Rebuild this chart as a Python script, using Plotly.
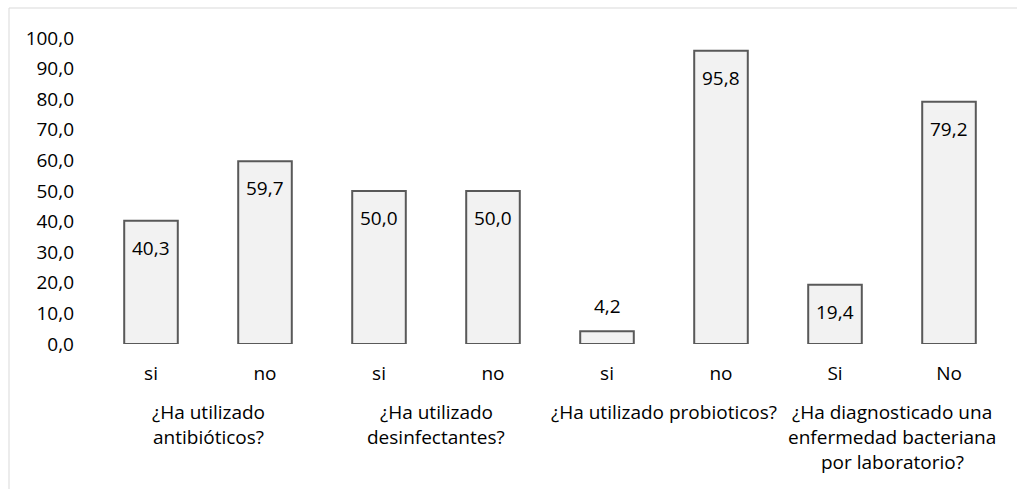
import plotly.graph_objects as go

# Survey answers (percent of respondents)
questions = [
    ["¿Ha utilizado", "antibióticos?"],
    ["¿Ha utilizado", "desinfectantes?"],
    ["¿Ha utilizado probioticos?"],
    ["¿Ha diagnosticado una", "enfermedad bacteriana", "por laboratorio?"],
]
answers = ["si", "no", "si", "no", "si", "no", "Si", "No"]
percent = [40.3, 59.7, 50.0, 50.0, 4.2, 95.8, 19.4, 79.2]
y_ticks = [0, 10, 20, 30, 40, 50, 60, 70, 80, 90, 100]

FONT = "Open Sans"
FS = 19
TXT = "#000000"
positions = list(range(len(answers)))

fig = go.Figure(
    go.Bar(
        x=positions,
        y=percent,
        width=0.47,
        marker=dict(color="#F2F2F2", line=dict(color="#595959", width=2)),
        hoverinfo="skip",
    )
)

annotations = []
# value labels: inside near the top, or above when the bar is too short
for x, v in zip(positions, percent):
    label = f"{v:.1f}".replace(".", ",")
    inside = v > 10
    annotations.append(dict(
        x=x, y=v, xref="x", yref="y", text=label, showarrow=False,
        yshift=-27 if inside else 25,
        font=dict(family=FONT, size=FS, color=TXT),
    ))

# question labels under each pair of answers
for g, lines in enumerate(questions):
    for i, line in enumerate(lines):
        annotations.append(dict(
            x=2 * g + 0.5, y=0, xref="x", yref="paper", text=line,
            showarrow=False, yanchor="middle", yshift=-68 - 25 * i,
            font=dict(family=FONT, size=FS, color=TXT),
        ))

fig.update_layout(
    width=1017, height=489,
    margin=dict(l=94, r=11, t=38, b=145),
    paper_bgcolor="white", plot_bgcolor="white",
    separators=",.",
    showlegend=False,
    font=dict(family=FONT, size=FS, color=TXT),
    annotations=annotations,
    shapes=[dict(
        type="rect", xref="paper", yref="paper",
        x0=(9 - 94) / 912, x1=1.2, y0=-1.0, y1=1 + (38 - 8) / 306,
        line=dict(color="#D9D9D9", width=1), fillcolor="rgba(0,0,0,0)",
        layer="below",
    )],
    bargap=0.53,
)
fig.update_xaxes(
    tickmode="array", tickvals=positions, ticktext=answers,
    range=[-0.5, len(answers) - 0.5],
    showgrid=False, zeroline=False, showline=False, ticks="",
    ticklabelstandoff=16, tickfont=dict(family=FONT, size=FS, color=TXT),
)
fig.update_yaxes(
    range=[0, 100], tickmode="array", tickvals=y_ticks, tickformat=".1f",
    showgrid=False, zeroline=False, showline=False, ticks="",
    ticklabelstandoff=19, tickfont=dict(family=FONT, size=FS, color=TXT),
)

fig.write_html("out.html")
